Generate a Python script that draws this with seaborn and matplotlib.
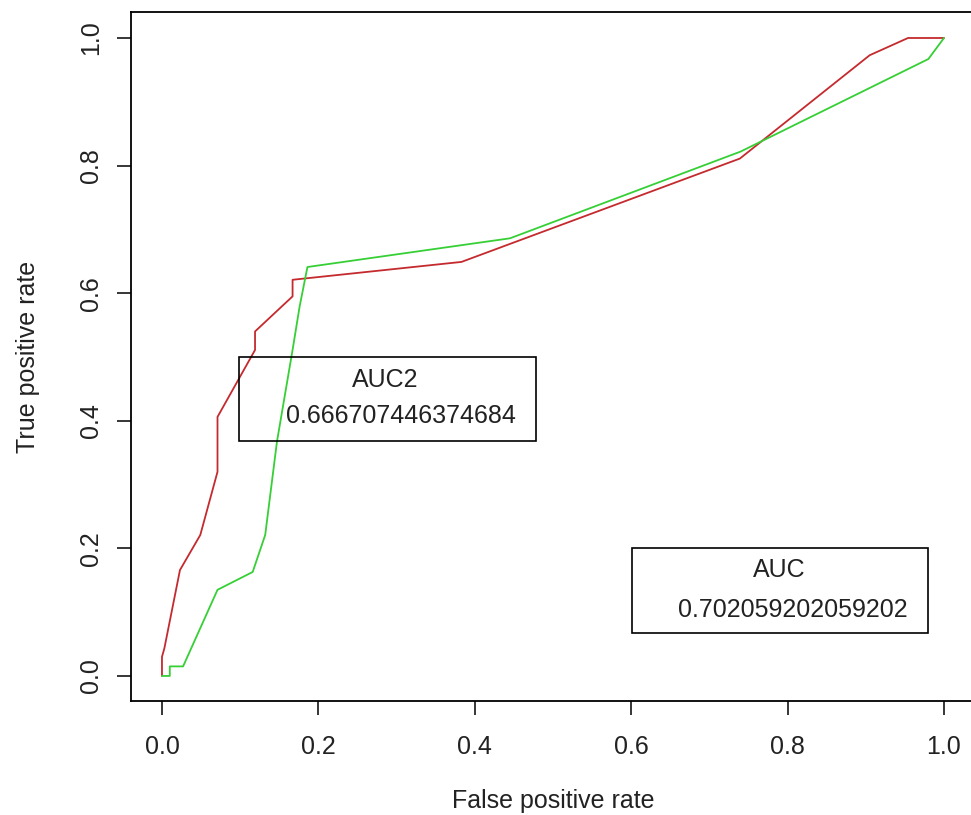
import matplotlib
matplotlib.use("Agg")
import matplotlib.pyplot as plt
from matplotlib.patches import Rectangle
import numpy as np
import pandas as pd
import seaborn as sns

# ROC curve points (false positive rate, true positive rate)
model1_fpr = [0, 0, 0.003, 0.023, 0.049, 0.071, 0.071, 0.119, 0.119, 0.167, 0.167, 0.383, 0.739, 0.905, 0.954, 1.0]
model1_tpr = [0, 0.03, 0.043, 0.166, 0.221, 0.320, 0.406, 0.511, 0.540, 0.595, 0.621, 0.649, 0.811, 0.973, 1.0, 1.0]

model2_fpr = [0, 0.010, 0.010, 0.027, 0.071, 0.116, 0.132, 0.147, 0.167, 0.176, 0.186, 0.445, 0.74, 0.98, 1.0]
model2_tpr = [0, 0, 0.015, 0.015, 0.135, 0.163, 0.221, 0.367, 0.511, 0.579, 0.641, 0.686, 0.822, 0.967, 1.0]

auc1_title = "AUC"
auc1_value = "0.702059202059202"
auc2_title = "AUC2"
auc2_value = "0.666707446374684"

tick_values = [0.0, 0.2, 0.4, 0.6, 0.8, 1.0]
tick_labels = ["0.0", "0.2", "0.4", "0.6", "0.8", "1.0"]

sns.set_theme(style="white")
plt.rcParams["font.family"] = ["Liberation Sans", "DejaVu Sans"]

df1 = pd.DataFrame({"fpr": model1_fpr, "tpr": model1_tpr, "order": np.arange(len(model1_fpr))})
df2 = pd.DataFrame({"fpr": model2_fpr, "tpr": model2_tpr, "order": np.arange(len(model2_fpr))})

fig = plt.figure(figsize=(9.71, 8.15), dpi=100)
ax = fig.add_axes([0.1346, 0.1393, 0.8698, 0.8454])

sns.lineplot(data=df1, x="fpr", y="tpr", sort=False, estimator=None,
             color="#c42a2e", linewidth=1.3, ax=ax)
sns.lineplot(data=df2, x="fpr", y="tpr", sort=False, estimator=None,
             color="#36cf36", linewidth=1.3, ax=ax)

ax.set_xlim(-0.04, 1.04)
ax.set_ylim(-0.04, 1.04)

for s in ax.spines.values():
    s.set_color("black")
    s.set_linewidth(1.3)

ax.set_xticks(tick_values)
ax.set_xticklabels(tick_labels)
ax.set_yticks(tick_values)
ax.set_yticklabels(tick_labels, rotation=90, va="center")
ax.tick_params(axis="both", which="major", direction="out", length=10,
               width=1.1, color="black", labelsize=18, labelcolor="#222222",
               bottom=True, left=True, top=False, right=False)
ax.tick_params(axis="x", pad=14)
ax.tick_params(axis="y", pad=10)

ax.set_xlabel("False positive rate", fontsize=18, color="#222222", labelpad=22)
ax.set_ylabel("True positive rate", fontsize=18, color="#222222", labelpad=28)

# Annotation boxes with the AUC values
ax.add_patch(Rectangle((0.099, 0.368), 0.379, 0.132, fill=False,
                       edgecolor="black", linewidth=1.2, zorder=3))
ax.text(0.285, 0.464, auc2_title, ha="center", va="center", fontsize=18, color="#222222")
ax.text(0.159, 0.4075, auc2_value, ha="left", va="center", fontsize=18, color="#222222")

ax.add_patch(Rectangle((0.601, 0.068), 0.378, 0.132, fill=False,
                       edgecolor="black", linewidth=1.2, zorder=3))
ax.text(0.789, 0.166, auc1_title, ha="center", va="center", fontsize=18, color="#222222")
ax.text(0.660, 0.103, auc1_value, ha="left", va="center", fontsize=18, color="#222222")

fig.savefig("out.png", dpi=100)
